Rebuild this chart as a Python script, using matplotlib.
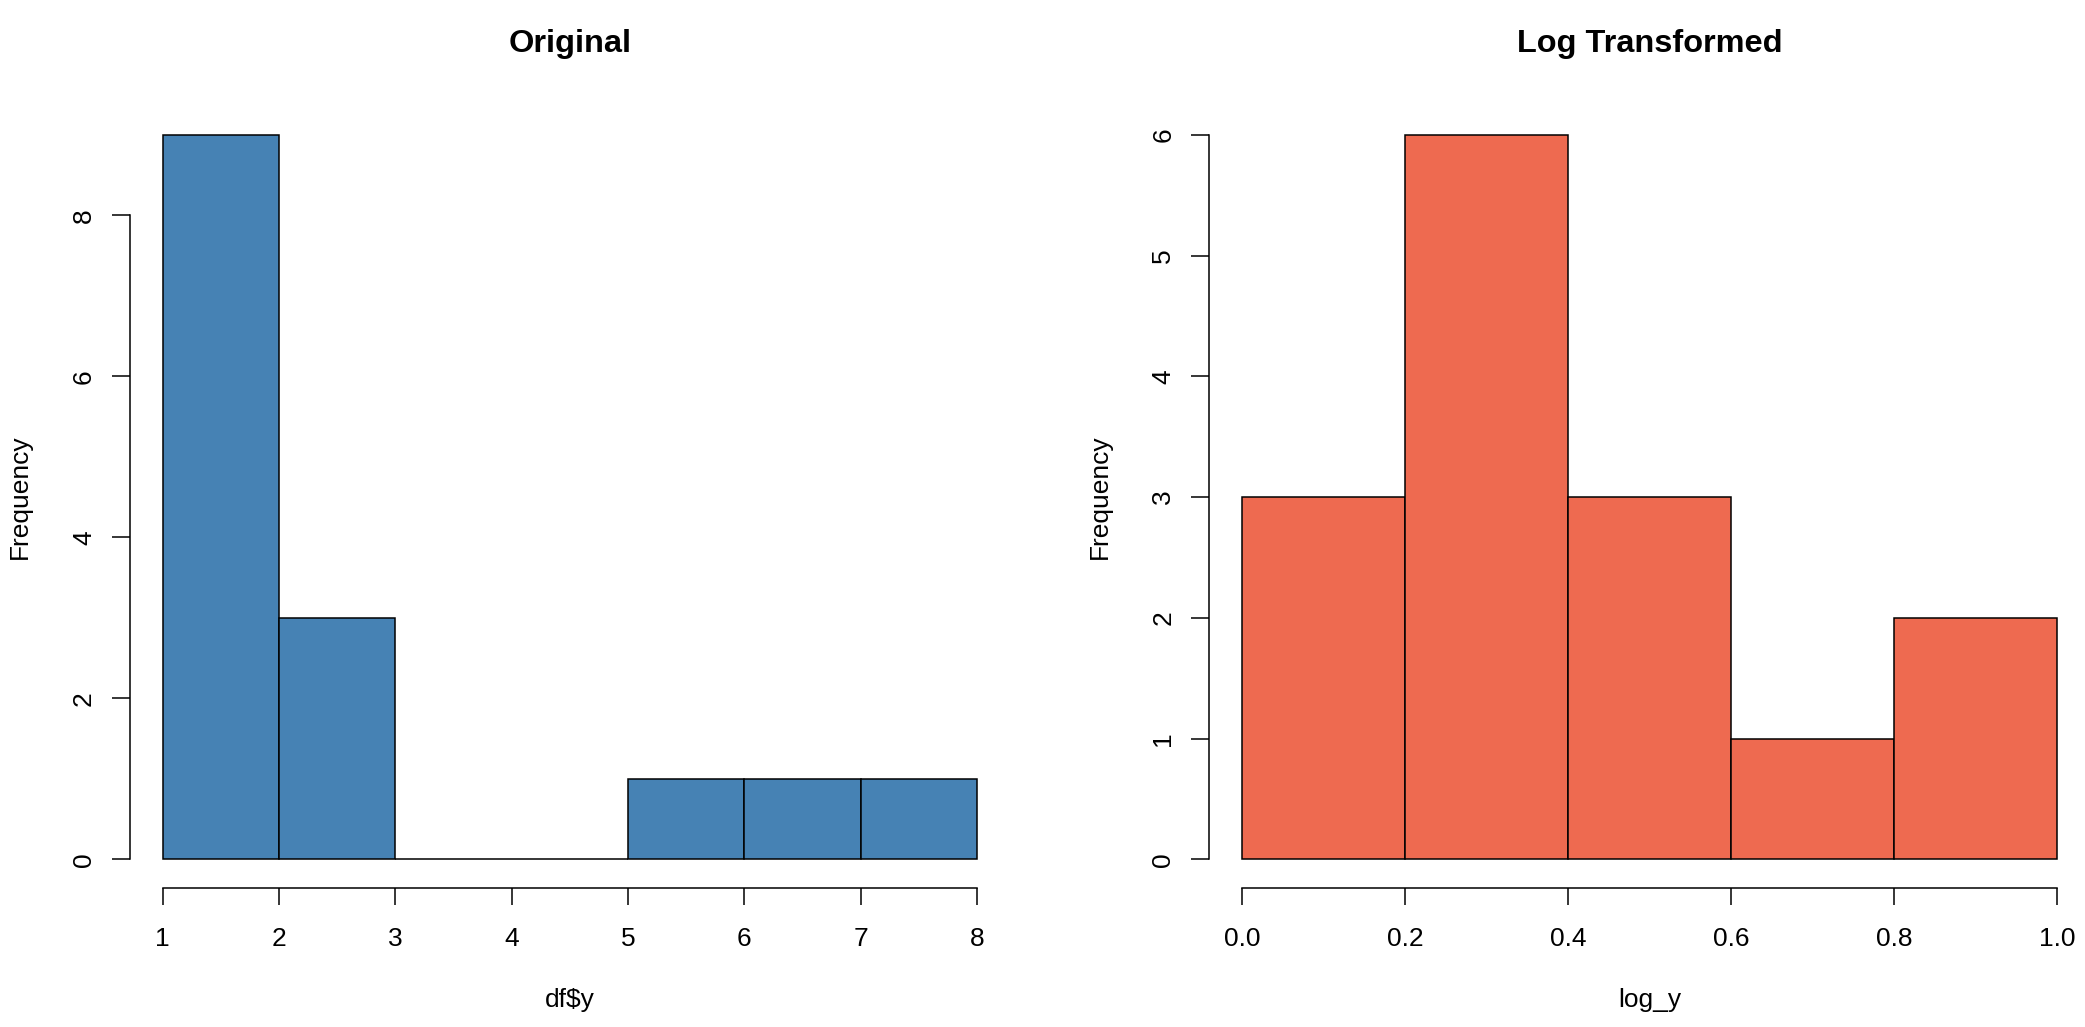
import numpy as np
import matplotlib
matplotlib.use("Agg")
import matplotlib.pyplot as plt

# histogram data
orig_edges = [1, 2, 3, 4, 5, 6, 7, 8]
orig_counts = [9, 3, 0, 0, 1, 1, 1]
orig_xticks = [1, 2, 3, 4, 5, 6, 7, 8]
orig_yticks = [0, 2, 4, 6, 8]

log_edges = [0.0, 0.2, 0.4, 0.6, 0.8, 1.0]
log_counts = [3, 6, 3, 1, 2]
log_xticks = [0.0, 0.2, 0.4, 0.6, 0.8, 1.0]
log_xlabels = ["0.0", "0.2", "0.4", "0.6", "0.8", "1.0"]
log_yticks = [0, 1, 2, 3, 4, 5, 6]

plt.rcParams["font.family"] = ["Liberation Sans", "DejaVu Sans"]

W, H = 2085, 1027
fig = plt.figure(figsize=(W / 100, H / 100), dpi=100)

tick_fs = 19
lw = 1.1


def r_hist(ax, edges, counts, color, xticks, xlabels, yticks, title, xlabel):
    edges = np.array(edges, dtype=float)
    ax.bar(edges[:-1], counts, width=np.diff(edges), align="edge",
           color=color, edgecolor="black", linewidth=lw)
    # R style 4% padding
    xr = edges[-1] - edges[0]
    yr = max(counts)
    ax.set_xlim(edges[0] - 0.04 * xr, edges[-1] + 0.04 * xr)
    ax.set_ylim(-0.04 * yr, yr * 1.04)
    for s in ["top", "right"]:
        ax.spines[s].set_visible(False)
    ax.spines["left"].set_bounds(yticks[0], yticks[-1])
    ax.spines["bottom"].set_bounds(xticks[0], xticks[-1])
    ax.spines["left"].set_linewidth(lw)
    ax.spines["bottom"].set_linewidth(lw)
    ax.set_xticks(xticks)
    ax.set_xticklabels(xlabels)
    ax.set_yticks(yticks)
    ax.tick_params(axis="both", direction="out", width=lw, labelsize=tick_fs)
    ax.tick_params(axis="x", length=12.2, pad=15.8)
    ax.tick_params(axis="y", length=13, pad=11.5, labelrotation=90)
    for t in ax.get_yticklabels():
        t.set_va("center")
    ax.set_title(title, fontsize=23.4, fontweight="bold", pad=39)
    ax.set_xlabel(xlabel, fontsize=tick_fs)
    ax.set_ylabel("Frequency", fontsize=tick_fs)
    bb = ax.get_position()
    aw = bb.width * W
    ah = bb.height * H
    ax.xaxis.set_label_coords(0.5, -112 / ah)
    ax.xaxis.label.set_va("center")
    ax.yaxis.set_label_coords(-110 / aw, 0.5)
    ax.yaxis.label.set_va("center")


bottom = (H - 888.3) / H
height = (888.3 - 106) / H

ax1 = fig.add_axes([130 / W, bottom, (1009.6 - 130) / W, height])
r_hist(ax1, orig_edges, orig_counts, "#4682B4", orig_xticks,
       [str(v) for v in orig_xticks], orig_yticks, "Original", "df$y")

ax2 = fig.add_axes([1209.4 / W, bottom, (2089.6 - 1209.4) / W, height])
r_hist(ax2, log_edges, log_counts, "#EE6A50", log_xticks, log_xlabels,
       log_yticks, "Log Transformed", "log_y")

fig.savefig("out.png", dpi=100)
